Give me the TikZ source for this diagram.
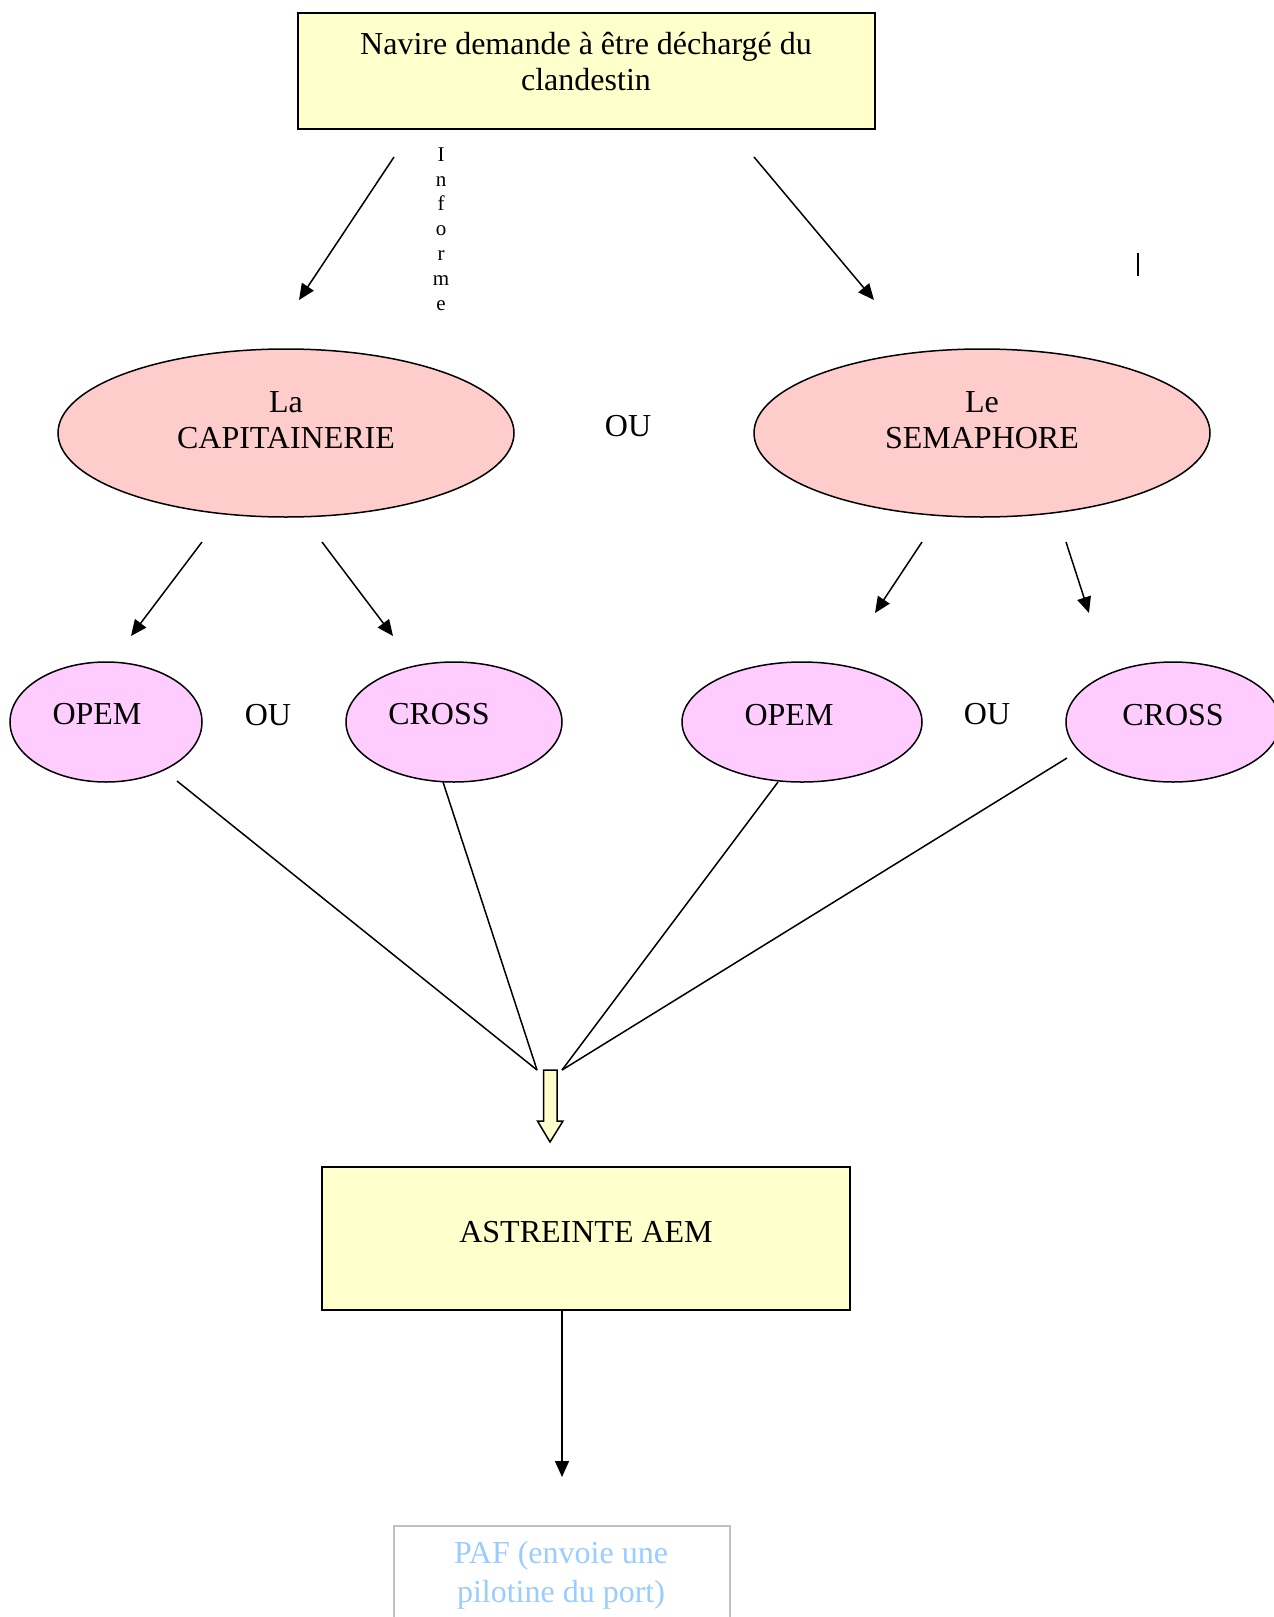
\documentclass[tikz,border=0pt]{standalone}
\usepackage{fontspec}
\setmainfont{Liberation Serif}
\usetikzlibrary{arrows.meta,shapes.geometric}
\definecolor{boxyellow}{HTML}{FFFFCC}
\definecolor{ellpink}{HTML}{FFCCCC}
\definecolor{ellviolet}{HTML}{FFCCFF}
\definecolor{pafblue}{HTML}{99CCFF}
\definecolor{pafgray}{HTML}{C0C0C0}
\tikzset{
  txt/.style={font=\fontsize{32}{36}\selectfont, inner sep=0pt, align=center},
  bigell/.style={ellipse, draw, line width=1.5pt, fill=ellpink, minimum width=456pt, minimum height=168pt, inner sep=0pt},
  smallell/.style={ellipse, draw, line width=1.5pt, fill=ellviolet, minimum height=120pt, inner sep=0pt},
  yellowbox/.style={draw, line width=1.5pt, fill=boxyellow, inner sep=0pt},
  conn/.style={line width=1.5pt, -{Triangle[length=16pt,width=14pt]}},
  plain/.style={line width=1.5pt},
}
\begin{document}
\begin{tikzpicture}[x=1pt,y=-1pt]
\useasboundingbox (0,0) rectangle (1274,1617);
% top box
\node[yellowbox, minimum width=577pt, minimum height=116pt] (navire) at (586.5,71) {};
\node[txt] (navtxt) at (586,61.5) {Navire demande à être déchargé du\\clandestin};
% informe
\node[font=\fontsize{21}{24.8}\selectfont, inner sep=0pt, align=center] (informe) at (441,229) {I\\n\\f\\o\\r\\m\\e};
\coordinate (a1s) at (394,157); \coordinate (a1e) at (299,300);
\coordinate (a2s) at (754,157); \coordinate (a2e) at (874,300);
\draw[conn] (a1s) -- (a1e);
\draw[conn] (a2s) -- (a2e);
\coordinate (bar1) at (1138,253); \coordinate (bar2) at (1138,276);
\draw[line width=1.5pt] (bar1) -- (bar2);
% big ellipses
\node[bigell] (capi) at (286,433) {};
\node[txt] (capitxt) at (286,420) {La\\CAPITAINERIE};
\node[bigell] (sema) at (982,433) {};
\node[txt] (sematxt) at (982,420) {Le\\SEMAPHORE};
\node[txt] (ou1) at (628,426) {OU};
% arrows to small ellipses
\coordinate (b1s) at (202,542); \coordinate (b1e) at (131,636);
\coordinate (b2s) at (322,542); \coordinate (b2e) at (393,636);
\coordinate (b3s) at (922,542); \coordinate (b3e) at (875,613);
\coordinate (b4s) at (1066,542); \coordinate (b4e) at (1089,613);
\draw[conn] (b1s) -- (b1e);
\draw[conn] (b2s) -- (b2e);
\draw[conn] (b3s) -- (b3e);
\draw[conn] (b4s) -- (b4e);
% small ellipses
\node[smallell, minimum width=192pt] (opem1) at (106,722) {};
\node[txt] (opem1t) at (97,714) {OPEM};
\node[txt] (ou2) at (268,715) {OU};
\node[smallell, minimum width=216pt] (cross1) at (454,722) {};
\node[txt] (cross1t) at (439,714) {CROSS};
\node[smallell, minimum width=240pt] (opem2) at (802,722) {};
\node[txt] (opem2t) at (789,715) {OPEM};
\node[txt] (ou3) at (987,714) {OU};
\node[smallell, minimum width=214pt] (cross2) at (1173,722) {};
\node[txt] (cross2t) at (1173,715) {CROSS};
% converging lines
\coordinate (c1) at (177,781); \coordinate (c2) at (443,782);
\coordinate (c3) at (778,782); \coordinate (c4) at (1067,758);
\coordinate (jl) at (537,1070); \coordinate (jr) at (562,1070);
\draw[plain] (c1) -- (jl);
\draw[plain] (c2) -- (jl);
\draw[plain] (c3) -- (jr);
\draw[plain] (c4) -- (jr);
% block arrow
\draw[line width=1.5pt, fill=boxyellow, line join=miter]
  (543.5,1070) -- (557,1070) -- (557,1121) -- (563,1121) -- (550,1142)
  -- (537.5,1121) -- (543.5,1121) -- cycle;
% astreinte
\node[yellowbox, minimum width=528pt, minimum height=143pt] (astr) at (586,1238.5) {};
\node[txt] (astrt) at (586,1232) {ASTREINTE AEM};
\coordinate (d1) at (562,1310); \coordinate (d2) at (562,1477);
\draw[conn] (d1) -- (d2);
% PAF
\draw[pafgray, line width=1.5pt] (394,1630) -- (394,1526) -- (730,1526) -- (730,1630);
\node[font=\fontsize{32}{39}\selectfont, inner sep=0pt, align=center, text=pafblue] (paf) at (561,1575) {PAF (envoie une\\pilotine du port)};
\end{tikzpicture}
\end{document}
